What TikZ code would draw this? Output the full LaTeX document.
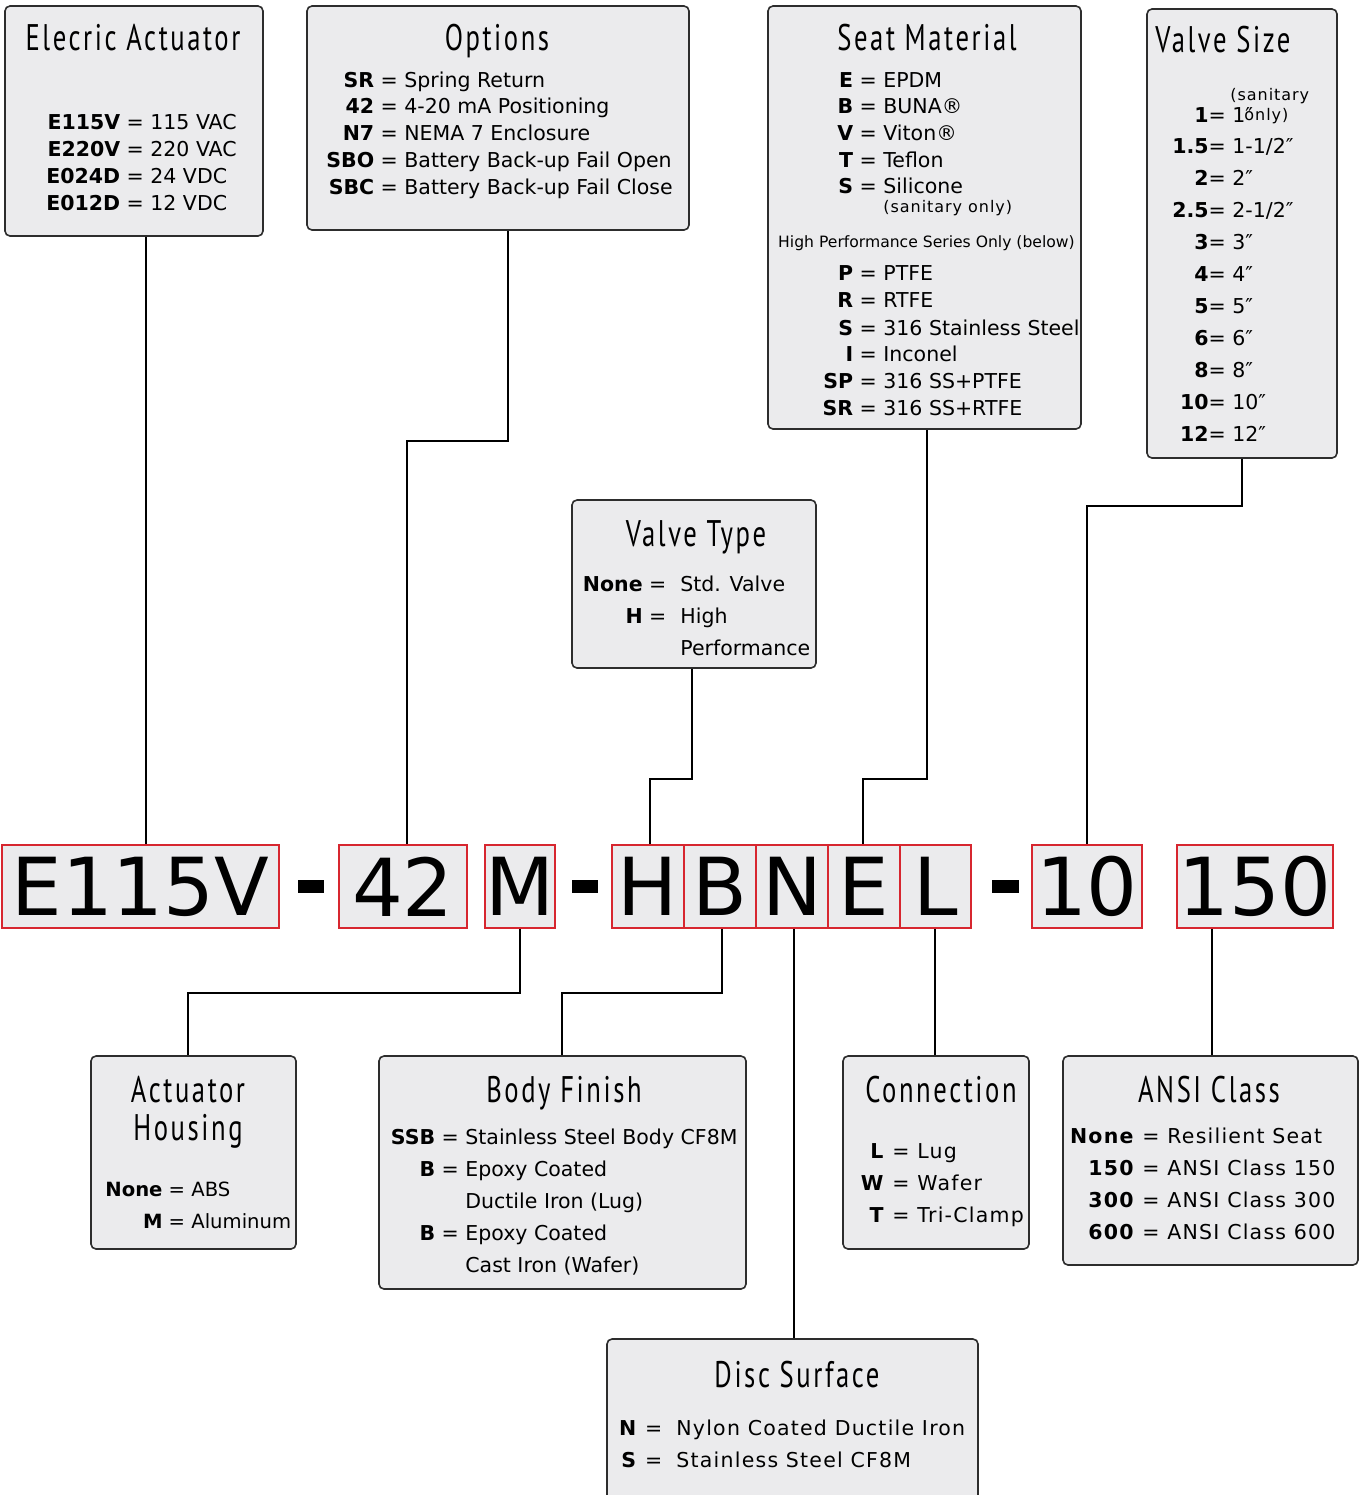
\documentclass[tikz,border=0pt]{standalone}
\usepackage{fontspec}
\setmainfont{DejaVu Sans}
\newfontfamily\titlefont[FakeStretch=0.72,LetterSpace=7]{PT Sans}
\newfontfamily\trkfont[LetterSpace=6]{DejaVu Sans}
\usetikzlibrary{fit}
\definecolor{boxgray}{RGB}{235,235,237}
\definecolor{codered}{RGB}{215,38,47}
\definecolor{edgegray}{RGB}{45,45,45}
\newcounter{tn}
\tikzset{
 infobox/.style={draw=edgegray, line width=0.8pt, fill=boxgray, rounded corners=2.5pt, inner sep=0pt},
 codebox/.style={draw=codered, line width=0.9pt, fill=boxgray, inner sep=0pt, minimum height=41.5pt, font=\fontsize{40}{40}\selectfont},
 conn/.style={draw=black, line width=1.1pt},
 ttl/.style={anchor=base, inner sep=0pt, font=\titlefont\fontsize{18.5}{20}\selectfont},
 txt/.style={anchor=base west, inner sep=0pt},
 dashbar/.style={fill=black, inner sep=0pt},
 small/.style={anchor=base west, inner sep=0pt, font=\trkfont\fontsize{8}{9}\selectfont},
}
\newcommand\kv[5][\ =\ ]{\stepcounter{tn}\node[txt] (t\arabic{tn}) at (#2,#3+7.5) {\llap{\textbf{#4}#1}#5};}
\begin{document}
\begin{tikzpicture}[x=0.5pt,y=-0.5pt]
\clip (0,0) rectangle (1359,1495);
\fill[white] (0,0) rectangle (1359,1495);
% ---------- info boxes ----------
\node[infobox, fit={(5,6) (263,236)}] (ea) {};
\node[infobox, fit={(307,6) (689,230)}] (opt) {};
\node[infobox, fit={(768,6) (1081,429)}] (seat) {};
\node[infobox, fit={(1147,9) (1337,458)}] (vsize) {};
\node[infobox, fit={(572,500) (816,668)}] (vtype) {};
\node[infobox, fit={(91,1056) (296,1249)}] (ah) {};
\node[infobox, fit={(379,1056) (746,1289)}] (bf) {};
\node[infobox, fit={(843,1056) (1029,1249)}] (con) {};
\node[infobox, fit={(1063,1056) (1358,1265)}] (ansi) {};
\node[infobox, fit={(607,1339) (978,1510)}] (disc) {};
% ---------- titles ----------
\node[ttl] (tea) at (133,50) {Elecric Actuator};
\node[ttl] (topt) at (497,50) {Options};
\node[ttl] (tseat) at (927,50) {Seat Material};
\node[ttl, anchor=base west] (tvsize) at (1155,52) {Valve Size};
\node[ttl] (tvtype) at (696,546) {Valve Type};
\node[ttl] (tah1) at (188,1102) {Actuator};
\node[ttl] (tah2) at (188,1140) {Housing};
\node[ttl] (tbf) at (564,1102) {Body Finish};
\node[ttl] (tcon) at (941,1102) {Connection};
\node[ttl] (tansi) at (1209,1102) {ANSI Class};
\node[ttl] (tdisc) at (797,1387) {Disc Surface};
% ---------- entries ----------
\begin{scope}[font=\fontsize{10.25}{12}\selectfont]
\kv{150}{122}{E115V}{115 VAC}
\kv{150}{149}{E220V}{220 VAC}
\kv{150}{176}{E024D}{24 VDC}
\kv{150}{203}{E012D}{12 VDC}
\kv{404}{80}{SR}{Spring Return}
\kv{404}{106}{42}{4-20 mA Positioning}
\kv{404}{133}{N7}{NEMA 7 Enclosure}
\kv{404}{160}{SBO}{Battery Back-up Fail Open}
\kv{404}{187}{SBC}{Battery Back-up Fail Close}
\kv{883}{80}{E}{EPDM}
\kv{883}{106}{B}{BUNA®}
\kv{883}{133}{V}{Viton®}
\kv{883}{160}{T}{Teflon}
\kv{883}{186}{S}{Silicone}
\kv{883}{273}{P}{PTFE}
\kv{883}{300}{R}{RTFE}
\kv{883}{328}{S}{316 Stainless Steel}
\kv{883}{354}{I}{Inconel}
\kv{883}{381}{SP}{316 SS+PTFE}
\kv{883}{408}{SR}{316 SS+RTFE}
\kv[=\ ]{1232}{115}{1}{1″}
\kv[=\ ]{1232}{146}{1.5}{1-1/2″}
\kv[=\ ]{1232}{178}{2}{2″}
\kv[=\ ]{1232}{210}{2.5}{2-1/2″}
\kv[=\ ]{1232}{242}{3}{3″}
\kv[=\ ]{1232}{274}{4}{4″}
\kv[=\ ]{1232}{306}{5}{5″}
\kv[=\ ]{1232}{338}{6}{6″}
\kv[=\ ]{1232}{370}{8}{8″}
\kv[=\ ]{1232}{402}{10}{10″}
\kv[=\ ]{1232}{434}{12}{12″}
\kv[\ =\kern7pt]{680}{584}{None}{Std. Valve}
\kv[\ =\kern7pt]{680}{616}{H}{High}
\node[txt] (vtp) at (680,655.5) {Performance};
\kv{465}{1137}{SSB}{Stainless Steel Body CF8M}
\kv{465}{1169}{B}{Epoxy Coated}
\node[txt] (bf1) at (465,1208.5) {Ductile Iron (Lug)};
\kv{465}{1233}{B}{Epoxy Coated}
\node[txt] (bf2) at (465,1272.5) {Cast Iron (Wafer)};
\end{scope}
\begin{scope}[font=\fontsize{9.8}{12}\selectfont]
\kv{191}{1189}{None}{ABS}
\kv{191}{1221}{M}{Aluminum}
\end{scope}
\begin{scope}[font=\trkfont\fontsize{10.25}{12}\selectfont]
\kv{917}{1151}{L}{Lug}
\kv{917}{1183}{W}{Wafer}
\kv{917}{1215}{T}{Tri-Clamp}
\kv{1167}{1136}{None}{Resilient Seat}
\kv{1167}{1168}{150}{ANSI Class 150}
\kv{1167}{1200}{300}{ANSI Class 300}
\kv{1167}{1232}{600}{ANSI Class 600}
\kv[\ =\kern7pt]{676}{1428}{N}{Nylon Coated Ductile Iron}
\kv[\ =\kern7pt]{676}{1460}{S}{Stainless Steel CF8M}
\end{scope}
\node[small] (san1) at (883,212.5) {(sanitary only)};
\node[anchor=base, inner sep=0pt, font=\fontsize{7.8}{9}\selectfont] (hps) at (926.5,247.5) {High Performance Series Only (below)};
\node[small] (san2) at (1230,100.5) {(sanitary};
\node[small] (san3) at (1244,120.5) {only)};
% ---------- code row ----------
\node[codebox, minimum width=138.5pt] (ce115) at (140.5,886.5) {E115V};
\node[dashbar, minimum width=13pt, minimum height=6.5pt] (d1) at (311,886.5) {};
\node[codebox, minimum width=64pt] (c42) at (403,886.5) {42};
\node[codebox, minimum width=35pt] (cM) at (520,886.5) {M};
\node[dashbar, minimum width=13pt, minimum height=6.5pt] (d2) at (585,886.5) {};
\node[codebox, minimum width=36pt] (cH) at (648,886.5) {H};
\node[codebox, minimum width=36pt] (cB) at (720,886.5) {B};
\node[codebox, minimum width=36pt] (cN) at (792,886.5) {N};
\node[codebox, minimum width=36pt] (cE) at (864,886.5) {E};
\node[codebox, minimum width=35.5pt] (cL) at (935.5,886.5) {L};
\node[dashbar, minimum width=13.5pt, minimum height=6.5pt] (d3) at (1005.5,886.5) {};
\node[codebox, minimum width=55pt] (c10) at (1087,886.5) {10};
\node[codebox, minimum width=78pt] (c150) at (1255,886.5) {150};
% ---------- connector guide coordinates ----------
\coordinate (k1) at (146,0);
\coordinate (k2) at (508,0);
\coordinate (b2) at (407,441);
\coordinate (k3) at (692,0);
\coordinate (b3) at (650,779);
\coordinate (k4) at (927,0);
\coordinate (b4) at (863,779);
\coordinate (k5) at (1242,0);
\coordinate (b5) at (1087,506);
\coordinate (k6) at (520,0);
\coordinate (b6) at (188,993);
\coordinate (k7) at (722,0);
\coordinate (b7) at (562,993);
\coordinate (k8) at (794,0);
\coordinate (k9) at (935,0);
\coordinate (k10) at (1212,0);
% ---------- connectors ----------
\draw[conn] (ea.south -| k1) -- (ce115.north -| k1);
\draw[conn] (opt.south -| k2) |- (b2) -- (c42.north -| b2);
\draw[conn] (vtype.south -| k3) |- (b3) -- (cH.north -| b3);
\draw[conn] (seat.south -| k4) |- (b4) -- (cE.north -| b4);
\draw[conn] (vsize.south -| k5) |- (b5) -- (c10.north -| b5);
\draw[conn] (cM.south -| k6) |- (b6) -- (ah.north -| b6);
\draw[conn] (cB.south -| k7) |- (b7) -- (bf.north -| b7);
\draw[conn] (cN.south -| k8) -- (disc.north -| k8);
\draw[conn] (cL.south -| k9) -- (con.north -| k9);
\draw[conn] (c150.south -| k10) -- (ansi.north -| k10);
\end{tikzpicture}
\end{document}
